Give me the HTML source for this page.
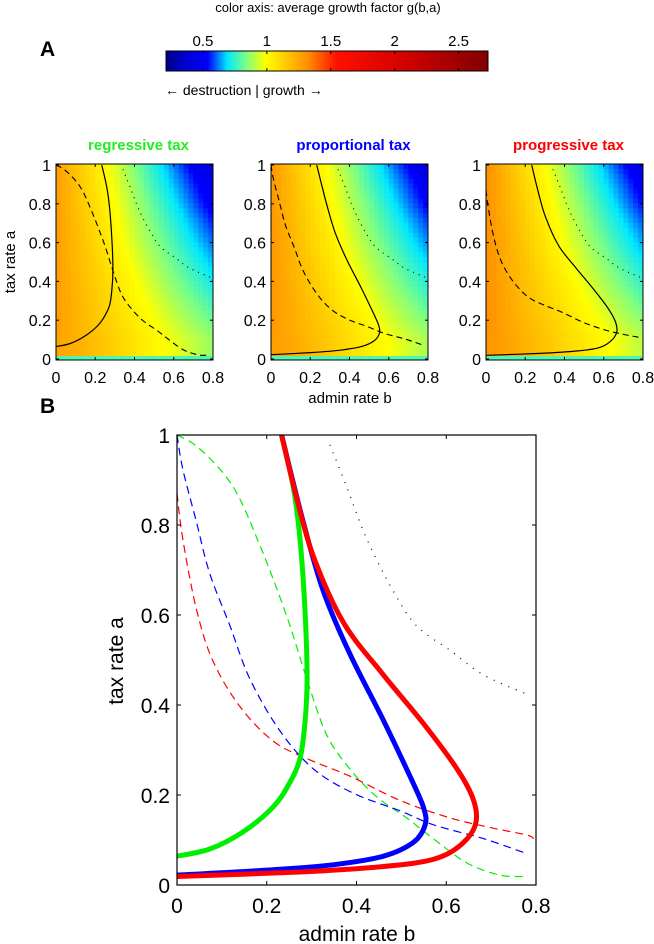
<!DOCTYPE html>
<html><head><meta charset="utf-8"><style>
body{margin:0;background:#fff;}
svg{display:block;font-family:"Liberation Sans",sans-serif;}
</style></head><body>
<svg id="fig" width="654" height="944" viewBox="0 0 654 944">
<defs><linearGradient id="cbgrad" x1="0" x2="1" y1="0" y2="0"></linearGradient></defs>
<text x="328" y="12" font-size="13" text-anchor="middle">color axis: average growth factor g(b,a)</text>
<text x="40" y="56" font-size="21" font-weight="bold">A</text>
<rect x="166" y="51" width="322" height="20" fill="url(#cbgrad)" stroke="#000" stroke-width="1"/>
<g id="cbticks"></g>
<text x="165" y="95" font-size="14">← destruction | growth →</text>
<text x="40" y="413" font-size="21" font-weight="bold">B</text>
<g id="panels"></g>
<g id="big"></g>
</svg>
<script>
const NS="http://www.w3.org/2000/svg";
function mk(tag,attrs,parent){const e=document.createElementNS(NS,tag);for(const k in attrs)e.setAttribute(k,attrs[k]);parent.appendChild(e);return e;}
// ---- data ----
const cbTicks=[0.5,1,1.5,2,2.5];
const cbMin=0.211, cbMax=2.73;
const colorStops=[[0,"#00007f"],[0.05,"#0000c8"],[0.13,"#0000ff"],[0.19,"#00e8ff"],[0.25,"#80ff80"],[0.31,"#ffff00"],[0.44,"#ff9000"],[0.53,"#ff1000"],[0.75,"#d00000"],[1,"#800000"]];
const gridB=[0,0.1,0.2,0.3,0.4,0.5,0.6,0.7,0.8];
const gridA=[1,0.9,0.8,0.7,0.6,0.5,0.4,0.3,0.2,0.1];
const gGrid=[
[1.28,1.17,1.06,0.95,0.84,0.73,0.62,0.51,0.40],
[1.28,1.18,1.07,0.97,0.87,0.76,0.66,0.56,0.45],
[1.28,1.18,1.09,0.99,0.89,0.80,0.70,0.60,0.50],
[1.28,1.19,1.10,1.01,0.92,0.83,0.74,0.65,0.56],
[1.28,1.20,1.11,1.03,0.94,0.86,0.78,0.69,0.61],
[1.28,1.20,1.13,1.05,0.97,0.89,0.815,0.74,0.66],
[1.28,1.21,1.14,1.07,1.00,0.925,0.85,0.78,0.71],
[1.28,1.22,1.15,1.09,1.02,0.96,0.89,0.83,0.76],
[1.28,1.22,1.16,1.11,1.05,0.99,0.93,0.87,0.82],
[1.26,1.23,1.18,1.13,1.07,1.02,0.97,0.92,0.87]];
const bottomStripG=0.78;
const panelOffset=[0,0.02,0.04];
const panelTitles=["regressive tax","proportional tax","progressive tax"];
const panelColors=["#22ee22","#0000ff","#ff0000"];
const xTicks=[0,0.2,0.4,0.6,0.8];
const yTicks=[0,0.2,0.4,0.6,0.8,1];
const greenSolidB=[0,0.073,0.147,0.214,0.251,0.274,0.285,0.29,0.285,0.274,0.259,0.233];
const greenSolidA=[0.064,0.08,0.118,0.173,0.227,0.281,0.359,0.459,0.614,0.769,0.885,1];
const blueSolidB=[0,0.2,0.348,0.46,0.527,0.553,0.549,0.519,0.46,0.385,0.326,0.281,0.233];
const blueSolidA=[0.022,0.033,0.045,0.064,0.095,0.134,0.173,0.242,0.366,0.514,0.653,0.808,1];
const redSolidB=[0,0.274,0.46,0.571,0.631,0.665,0.661,0.624,0.549,0.46,0.371,0.304,0.266,0.233];
const redSolidA=[0.019,0.029,0.041,0.057,0.088,0.134,0.188,0.258,0.359,0.467,0.583,0.73,0.862,1];
const greenDashB=[0,0.05,0.125,0.185,0.244,0.289,0.333,0.385,0.445,0.512,0.571,0.646,0.72,0.776];
const greenDashA=[1,0.97,0.885,0.754,0.599,0.459,0.335,0.258,0.196,0.149,0.103,0.049,0.022,0.019];
const blueDashB=[0,0.013,0.043,0.073,0.118,0.162,0.229,0.304,0.393,0.497,0.571,0.683,0.773];
const blueDashA=[1,0.924,0.808,0.692,0.576,0.459,0.343,0.258,0.204,0.165,0.134,0.103,0.072];
const redDashB=[0,0.013,0.043,0.08,0.14,0.214,0.289,0.385,0.497,0.609,0.706,0.78,0.795];
const redDashA=[0.87,0.769,0.614,0.498,0.397,0.32,0.281,0.242,0.188,0.149,0.126,0.111,0.103];
const dotB=[0.341,0.378,0.423,0.482,0.534,0.609,0.683,0.787];
const dotA=[0.978,0.885,0.769,0.653,0.576,0.521,0.467,0.421];
// ---- colour map ----
function hex(c){return [parseInt(c.slice(1,3),16),parseInt(c.slice(3,5),16),parseInt(c.slice(5,7),16)];}
function cmap(v){let f=(v-cbMin)/(cbMax-cbMin);f=Math.max(0,Math.min(1,f));
 for(let i=1;i<colorStops.length;i++){if(f<=colorStops[i][0]){const [f0,c0]=colorStops[i-1],[f1,c1]=colorStops[i];const t=(f-f0)/(f1-f0);const a=hex(c0),b=hex(c1);return "rgb("+a.map((x,k)=>Math.round(x+(b[k]-x)*t)).join(",")+")";}}
 return colorStops[colorStops.length-1][1];}
const grad=document.getElementById('cbgrad');
colorStops.forEach(s=>mk('stop',{offset:s[0],'stop-color':s[1]},grad));
const cbx=v=>166+(v-cbMin)/(cbMax-cbMin)*322;
const cbt=document.getElementById('cbticks');
cbTicks.forEach(v=>{const x=cbx(v);
 mk('line',{x1:x,x2:x,y1:51,y2:54,stroke:'#000','stroke-width':1},cbt);
 mk('line',{x1:x,x2:x,y1:68,y2:71,stroke:'#000','stroke-width':1},cbt);
 const t=mk('text',{x:x,y:46,'font-size':15,'text-anchor':'middle'},cbt);t.textContent=v;
 
 });
function gAt(b,a){
 let ci=b/0.1;ci=Math.max(0,Math.min(7.999,ci));const c=Math.floor(ci),tc=ci-c;
 let ri=(1-a)/0.1;ri=Math.max(0,Math.min(8.999,ri));const r=Math.floor(ri),tr=ri-r;
 const v00=gGrid[r][c],v01=gGrid[r][c+1],v10=gGrid[r+1][c],v11=gGrid[r+1][c+1];
 return (v00*(1-tc)+v01*tc)*(1-tr)+(v10*(1-tc)+v11*tc)*tr;}
function path(xs,ys,sx,sy){
 const p=xs.map((b,i)=>[sx(b),sy(ys[i])]);
 let d='M'+p[0][0].toFixed(1)+' '+p[0][1].toFixed(1);
 for(let i=0;i<p.length-1;i++){
  const p0=p[Math.max(0,i-1)],p1=p[i],p2=p[i+1],p3=p[Math.min(p.length-1,i+2)];
  const c1=[p1[0]+(p2[0]-p0[0])/6,p1[1]+(p2[1]-p0[1])/6],c2=[p2[0]-(p3[0]-p1[0])/6,p2[1]-(p3[1]-p1[1])/6];
  d+=' C'+c1.map(v=>v.toFixed(1)).join(' ')+' '+c2.map(v=>v.toFixed(1)).join(' ')+' '+p2[0].toFixed(1)+' '+p2[1].toFixed(1);
 }
 return d;}
// ---- small panels ----
const P=document.getElementById('panels');
const pX=[56,271,486], pW=157, pTop=164, pBot=360;
const solidB=[greenSolidB,blueSolidB,redSolidB], solidA=[greenSolidA,blueSolidA,redSolidA];
const dashB=[greenDashB,blueDashB,redDashB], dashA=[greenDashA,blueDashA,redDashA];
for(let p=0;p<3;p++){
 const x0=pX[p];
 const sx=b=>x0+b/0.8*pW, sy=a=>359-a*194;
 const g=mk('g',{},P);
 
 
 const nc=32,nr=40;
 for(let i=0;i<nc;i++)for(let j=0;j<nr;j++){
  const b=(i+0.5)/nc*0.8,a=1-(j+0.5)/nr;
  const r=mk('rect',{x:(x0+i*pW/nc).toFixed(2),y:(pTop+j*(pBot-pTop)/nr).toFixed(2),width:(pW/nc+0.5).toFixed(2),height:((pBot-pTop)/nr+0.5).toFixed(2),fill:cmap(gAt(b,a)+panelOffset[p])},g);
  
  
 }
 const st=mk('rect',{x:x0,y:pBot-4,width:pW,height:4,fill:cmap(bottomStripG)},g);
 
 
 const l1=mk('path',{d:path(solidB[p],solidA[p],sx,sy),fill:'none',stroke:'#000','stroke-width':1.2},g);
 
 
 const l2=mk('path',{d:path(dashB[p],dashA[p],sx,sy),fill:'none',stroke:'#000','stroke-width':1.1,'stroke-dasharray':'6,4'},g);
 
 
 const l3=mk('path',{d:path(dotB,dotA,sx,sy),fill:'none',stroke:'#000','stroke-width':1.1,'stroke-dasharray':'1,5'},g);
 
 
 const box=mk('rect',{x:x0,y:pTop,width:pW,height:pBot-pTop,fill:'none',stroke:'#000','stroke-width':1},g);
 
 
 xTicks.forEach(v=>{const x=sx(v);
  mk('line',{x1:x,x2:x,y1:pBot,y2:pBot-3,stroke:'#000'},g);mk('line',{x1:x,x2:x,y1:pTop,y2:pTop+3,stroke:'#000'},g);
  const t=mk('text',{x:x,y:383,'font-size':16,'text-anchor':'middle'},g);t.textContent=v;
  
  });
 yTicks.forEach(v=>{const y=sy(v);
  mk('line',{x1:x0,x2:x0+3,y1:y,y2:y,stroke:'#000'},g);mk('line',{x1:x0+pW,x2:x0+pW-3,y1:y,y2:y,stroke:'#000'},g);
  const t=mk('text',{x:x0-5,y:y+6,'font-size':16,'text-anchor':'end'},g);t.textContent=v;
  
  });
 const tt=mk('text',{x:x0+pW/2+4,y:150,'font-size':15,'font-weight':'bold','text-anchor':'middle',fill:panelColors[p]},g);
 tt.textContent=panelTitles[p];
 
 
}
const ya=mk('text',{x:0,y:0,'font-size':15,'text-anchor':'middle',transform:'translate(15,262) rotate(-90)'},P);
ya.textContent='tax rate a';


const xa=mk('text',{x:350,y:403,'font-size':15,'text-anchor':'middle'},P);
xa.textContent='admin rate b';


// ---- panel B ----
const B=document.getElementById('big');
const bx0=177,bx1=536,by0=435,by1=885;
const sx=b=>bx0+b/0.8*(bx1-bx0), sy=a=>by1-a*(by1-by0);
const series=[
 [greenDashB,greenDashA,'#00ee00',1.2,'8,5','green-dashed-line'],
 [blueDashB,blueDashA,'#0000ff',1.2,'8,5','blue-dashed-line'],
 [redDashB,redDashA,'#ff0000',1.2,'8,5','red-dashed-line'],
 [dotB,dotA,'#000',1.2,'1,7','dotted-line'],
 [greenSolidB,greenSolidA,'#00ee00',5,'','green-solid-line'],
 [blueSolidB,blueSolidA,'#0000ff',5,'','blue-solid-line'],
 [redSolidB,redSolidA,'#ff0000',5,'','red-solid-line']];
series.forEach(s=>{const e=mk('path',{d:path(s[0],s[1],sx,sy),fill:'none',stroke:s[2],'stroke-width':s[3],'stroke-dasharray':s[4]||'none','stroke-linejoin':'round'},B);
 
 });
const bb=mk('rect',{x:bx0,y:by0,width:bx1-bx0,height:by1-by0,fill:'none',stroke:'#000','stroke-width':1.2},B);


xTicks.forEach(v=>{const x=sx(v);
 mk('line',{x1:x,x2:x,y1:by1,y2:by1-4,stroke:'#000'},B);mk('line',{x1:x,x2:x,y1:by0,y2:by0+4,stroke:'#000'},B);
 const t=mk('text',{x:x,y:913,'font-size':21,'text-anchor':'middle'},B);t.textContent=v;
 
 });
yTicks.forEach(v=>{const y=sy(v);
 mk('line',{x1:bx0,x2:bx0+4,y1:y,y2:y,stroke:'#000'},B);mk('line',{x1:bx1,x2:bx1-4,y1:y,y2:y,stroke:'#000'},B);
 const t=mk('text',{x:170,y:y+8,'font-size':21,'text-anchor':'end'},B);t.textContent=v;
 
 });
const yb=mk('text',{x:0,y:0,'font-size':21,'text-anchor':'middle',transform:'translate(123,661) rotate(-90)'},B);
yb.textContent='tax rate a';


const xb=mk('text',{x:357,y:941,'font-size':21,'text-anchor':'middle'},B);
xb.textContent='admin rate b';


</script>
</body></html>
